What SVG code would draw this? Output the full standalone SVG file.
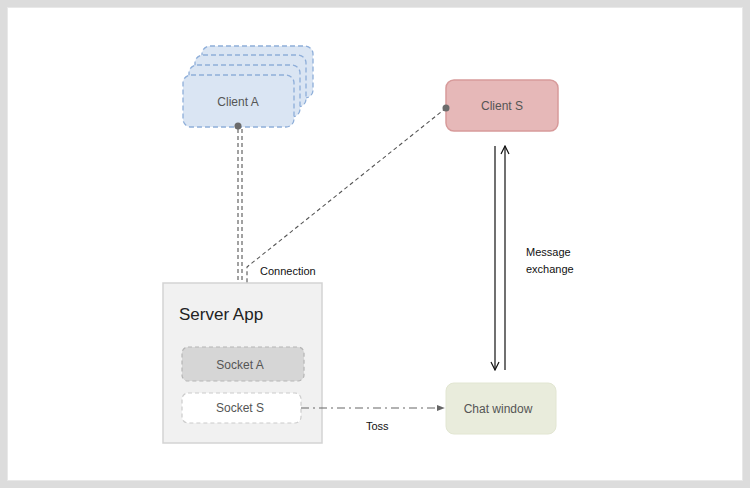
<svg xmlns="http://www.w3.org/2000/svg" width="750" height="488" viewBox="0 0 750 488">
<style>
.t{font-family:"Liberation Sans",Arial,sans-serif;}
.lbl{font-size:12px;fill:#555;text-anchor:middle;}
.edge{font-size:11px;fill:#111;}
.ca{fill:#dae5f3;stroke:#8eaed9;stroke-width:1.3;stroke-dasharray:5 3;}
.dash{fill:none;stroke:#555;stroke-width:1.1;stroke-dasharray:4 3;}
</style>
<defs>
<marker id="tri" viewBox="0 0 10 10" refX="9" refY="5" markerWidth="8" markerHeight="8" orient="auto" markerUnits="userSpaceOnUse">
<path d="M0,1 L10,5 L0,9 z" fill="#666"/>
</marker>
<marker id="open" viewBox="0 0 10 10" refX="9" refY="5" markerWidth="10" markerHeight="10" orient="auto" markerUnits="userSpaceOnUse">
<path d="M1,1 L9,5 L1,9" fill="none" stroke="#111" stroke-width="1.2"/>
</marker>
</defs>
<rect x="0" y="0" width="750" height="488" fill="#fff"/>
<rect x="3.5" y="3.5" width="743" height="481" fill="none" stroke="#dcdcdc" stroke-width="7"/>
<rect x="7.5" y="7.5" width="735" height="473" fill="none" stroke="#e8e8e8" stroke-width="1"/>

<g id="client-a">
<rect class="ca" x="202" y="46" width="111" height="52" rx="8"/>
<rect class="ca" x="195" y="55" width="111" height="52" rx="8"/>
<rect class="ca" x="189" y="65" width="111" height="52" rx="8"/>
<rect class="ca" x="183" y="75" width="111" height="52" rx="8"/>
<text class="t lbl" x="238" y="106">Client A</text>
</g>

<g id="client-s">
<rect x="446" y="80" width="112" height="51" rx="8" fill="#e6b8b8" stroke="#d79a9a" stroke-width="1.5"/>
<text class="t lbl" x="502" y="110">Client S</text>
</g>

<g id="server-app">
<rect x="163" y="283" width="159" height="160" fill="#f1f1f1" stroke="#d3d3d3" stroke-width="1.5"/>
<text class="t" x="179" y="320" font-size="17" fill="#222">Server App</text>
</g>

<g id="socket-a">
<rect x="182" y="347" width="122" height="34" rx="6" fill="#d6d6d6" stroke="#b5b5b5" stroke-width="1.2" stroke-dasharray="4 3"/>
<text class="t lbl" x="240" y="369">Socket A</text>
</g>

<g id="socket-s">
<rect x="182" y="393" width="119" height="30" rx="6" fill="#fff" stroke="#cccccc" stroke-width="1.2" stroke-dasharray="4 3"/>
<text class="t lbl" x="240" y="412">Socket S</text>
</g>

<g id="chat-window">
<rect x="446" y="383" width="110" height="51" rx="8" fill="#e9ecdc" stroke="#e2e6d2" stroke-width="1"/>
<text class="t lbl" x="498" y="413">Chat window</text>
</g>

<g id="connectors">
<line class="dash" x1="238" y1="129" x2="238" y2="283"/>
<line class="dash" x1="242" y1="129" x2="242" y2="283"/>
<circle cx="238" cy="126" r="3.5" fill="#6b6b6b"/>
<polyline class="dash" points="446,108 247,267 247,283"/>
<circle cx="446" cy="108" r="3.5" fill="#6b6b6b"/>
<line x1="301" y1="408" x2="444" y2="408" stroke="#666" stroke-width="1.2" stroke-dasharray="8 4 2 4" marker-end="url(#tri)"/>
<line x1="495" y1="146" x2="495" y2="370" stroke="#111" stroke-width="1.2" marker-end="url(#open)"/>
<line x1="505" y1="370" x2="505" y2="146" stroke="#111" stroke-width="1.2" marker-end="url(#open)"/>
<text class="t edge" x="260" y="275">Connection</text>
<text class="t edge" x="366" y="430">Toss</text>
<text class="t edge" x="526" y="256">Message</text>
<text class="t edge" x="526" y="273">exchange</text>
</g>
</svg>
